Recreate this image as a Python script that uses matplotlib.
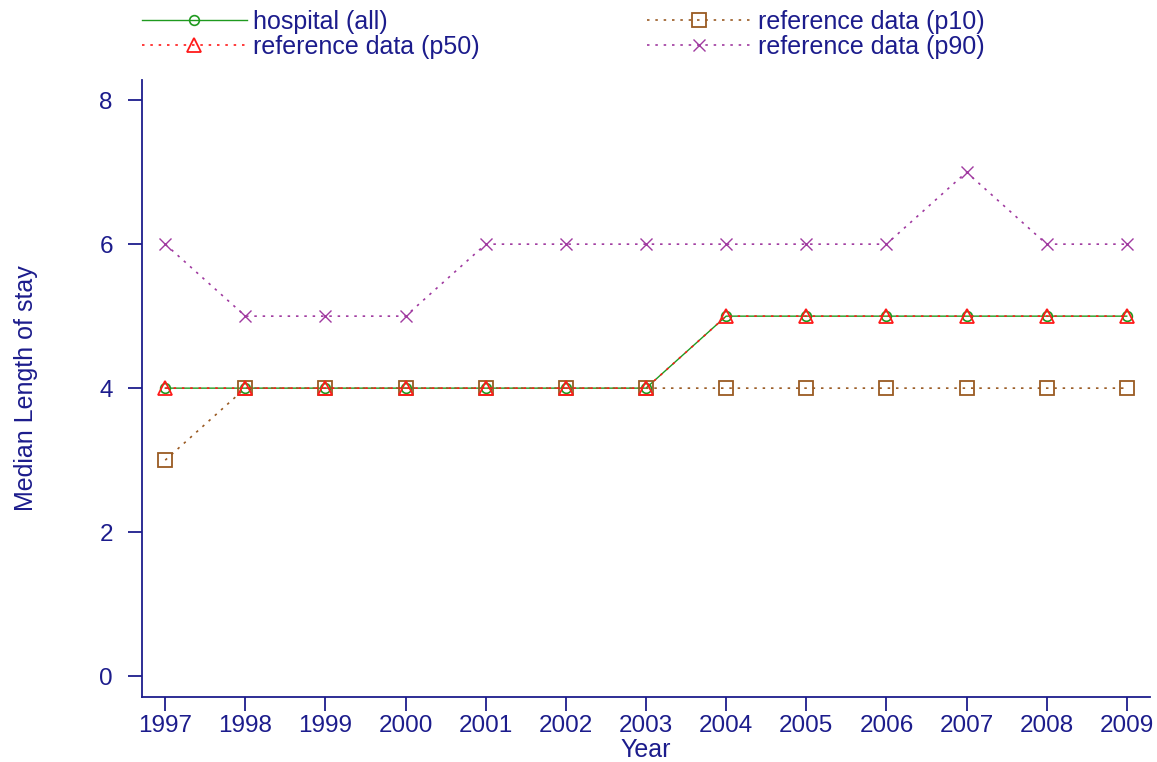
import numpy as np
import matplotlib
matplotlib.use("Agg")
import matplotlib.pyplot as plt

plt.rcParams['font.family'] = ['Liberation Sans', 'DejaVu Sans']

years = [1997, 1998, 1999, 2000, 2001, 2002, 2003, 2004, 2005, 2006, 2007, 2008, 2009]
hospital_all = [4, 4, 4, 4, 4, 4, 4, 5, 5, 5, 5, 5, 5]
ref_p10 = [3, 4, 4, 4, 4, 4, 4, 4, 4, 4, 4, 4, 4]
ref_p50 = [4, 4, 4, 4, 4, 4, 4, 5, 5, 5, 5, 5, 5]
ref_p90 = [6, 5, 5, 5, 6, 6, 6, 6, 6, 6, 7, 6, 6]

navy = '#1c1c8c'
green = '#1f9a1f'
red = '#ff1a1a'
brown = '#9a5a22'
purple = '#a03aa0'
dots = (0, (1.5, 3.5))

fig = plt.figure(figsize=(11.57, 7.62), dpi=100)
ax = fig.add_axes([142 / 1157, 1 - 697 / 762, (1150 - 142) / 1157, (697 - 80) / 762])

# =========================
# the four series
# =========================
h1, = ax.plot(years, hospital_all, '-', color=green, lw=1.0, marker='o', ms=7,
              mfc='none', mec=green, mew=1.2, label='hospital (all)')
h2, = ax.plot(years, ref_p10, linestyle=dots, color=brown, lw=1.2, marker='s', ms=10,
              mfc='none', mec=brown, mew=1.3, label='reference data (p10)')
h3, = ax.plot(years, ref_p50, linestyle=dots, color=red, lw=1.2, marker='^', ms=10,
              mfc='none', mec=red, mew=1.3, label='reference data (p50)')
h4, = ax.plot(years, ref_p90, linestyle=dots, color=purple, lw=1.2, marker='x', ms=9,
              mec=purple, mew=1.0, label='reference data (p90)')

ax.set_xlim(1996.71, 2009.29)
ax.set_ylim(-0.29, 8.28)
ax.set_xticks(years)
ax.set_yticks([0, 2, 4, 6, 8])

for s in ['top', 'right']:
    ax.spines[s].set_visible(False)
for s in ['left', 'bottom']:
    ax.spines[s].set_color(navy)
    ax.spines[s].set_linewidth(1.3)
ax.tick_params(colors=navy, labelcolor=navy, labelsize=17.5, length=10, width=1.3)
ax.tick_params(axis='x', pad=3)
ax.tick_params(axis='y', pad=11)

ax.set_xlabel('Year', color=navy, fontsize=18, labelpad=1)
ax.set_ylabel('Median Length of stay', color=navy, fontsize=18, labelpad=44)

# legend above the plot, two columns
fig.legend([h1, h3, h2, h4],
           ['hospital (all)', 'reference data (p50)', 'reference data (p10)', 'reference data (p90)'],
           ncol=2, loc='upper left', bbox_to_anchor=(129 / 1157, 1.003), frameon=False,
           fontsize=18, handlelength=4.2, handletextpad=0.25, columnspacing=6.7,
           labelspacing=0.02, borderaxespad=0.1, labelcolor=navy)

fig.savefig('out.png', dpi=100)
